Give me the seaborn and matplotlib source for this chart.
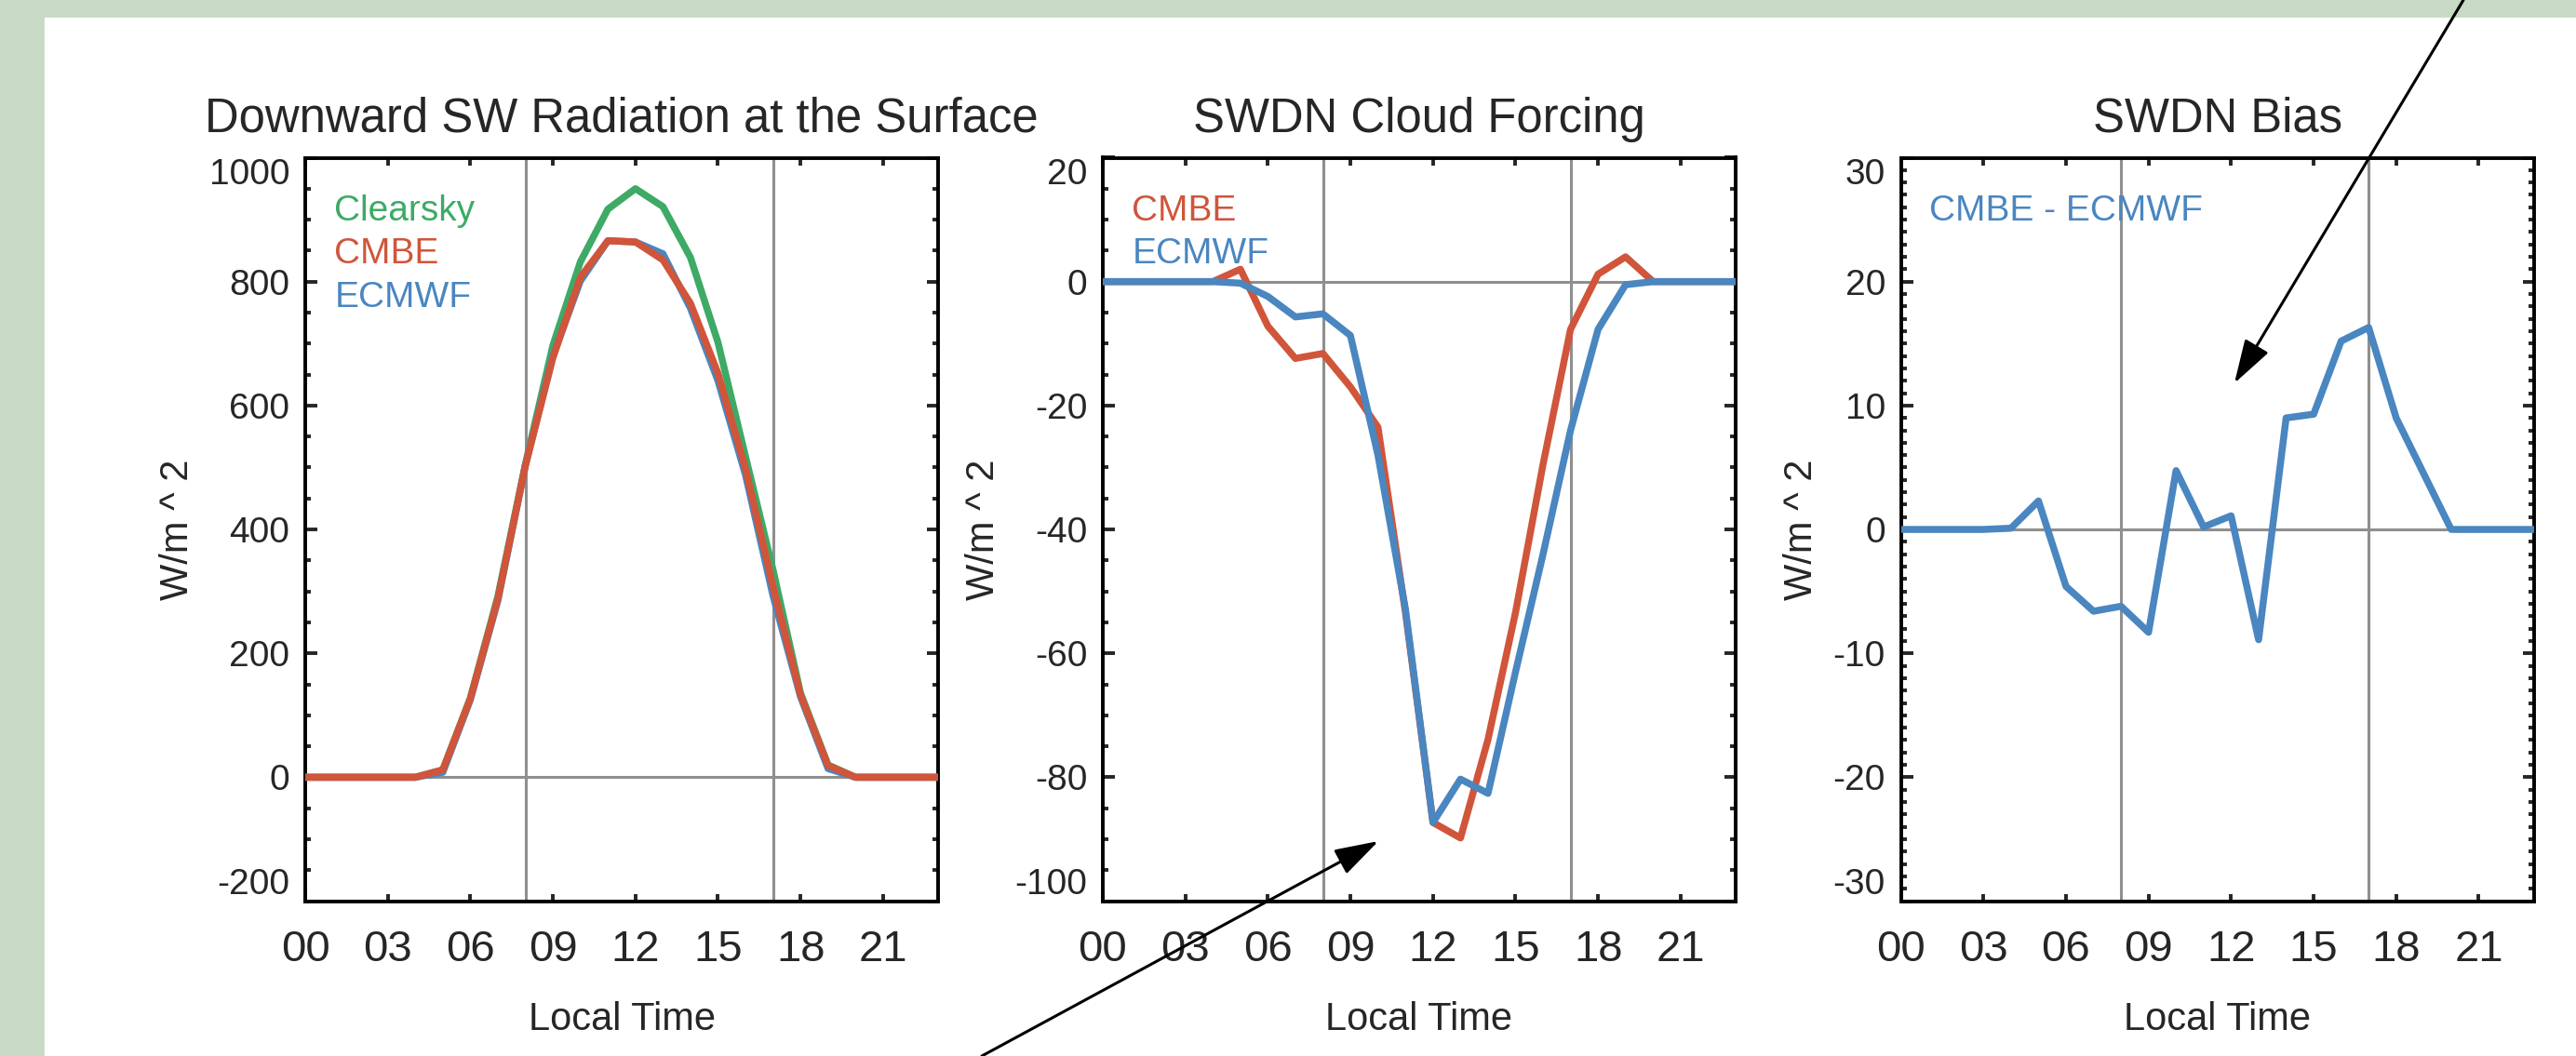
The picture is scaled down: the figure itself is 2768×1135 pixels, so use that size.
import numpy as np
import pandas as pd
import matplotlib
matplotlib.use("Agg")
import matplotlib.pyplot as plt
from matplotlib.patches import Rectangle
from matplotlib.ticker import MultipleLocator, NullLocator
import seaborn as sns

# hourly values, local time 00..23
hours = list(range(24))
hour_ticks = [0, 3, 6, 9, 12, 15, 18, 21]
hour_labels = ["00", "03", "06", "09", "12", "15", "18", "21"]

sw_clearsky = [0, 0, 0, 0, 0, 12, 128, 292, 505, 697, 832, 917,
               950, 921, 839, 702, 518, 335, 136, 20, 0, 0, 0, 0]
sw_cmbe = [0, 0, 0, 0, 0, 12, 127, 288, 503, 677, 807, 866,
           864, 835, 765, 652, 498, 308, 133, 19, 0, 0, 0, 0]
sw_ecmwf = [0, 0, 0, 0, 0, 8, 125, 285, 503, 680, 801, 866,
            864, 845, 757, 640, 488, 293, 130, 14, 0, 0, 0, 0]

cf_cmbe = [0, 0, 0, 0, 0, 2.0, -7.2, -12.4, -11.6, -17.0, -23.5, -53.4,
           -87.3, -89.8, -73.9, -53.4, -29.5, -7.7, 1.2, 4.0, 0, 0, 0, 0]
cf_ecmwf = [0, 0, 0, 0, 0, -0.25, -2.4, -5.7, -5.2, -8.7, -28.0, -52.9,
            -87.3, -80.3, -82.6, -63.0, -44.0, -24.0, -7.7, -0.5, 0, 0, 0, 0]

bias = [0, 0, 0, 0, 0.1, 2.3, -4.6, -6.6, -6.2, -8.3, 4.75, 0.2,
        1.1, -8.9, 9.0, 9.3, 15.2, 16.3, 9.0, 4.5, 0, 0, 0, 0]

GREEN = "#3daa66"
RED = "#d0553a"
BLUE = "#4a86c0"
GREY = "#8f8f8f"
FRAME = "#c8dac4"

sns.set_style("ticks")
plt.rcParams["font.family"] = ["Liberation Sans", "DejaVu Sans"]
plt.rcParams["axes.unicode_minus"] = False

W, H = 2768, 1135
fig = plt.figure(figsize=(W / 200, H / 200), dpi=200)
fig.patch.set_facecolor("white")
# light green slide frame on left and top
fig.add_artist(Rectangle((0, 0), 46 / W, 1, transform=fig.transFigure,
                         color=FRAME, zorder=0))
fig.add_artist(Rectangle((0, 1 - 16.5 / H), 1, 16.5 / H, transform=fig.transFigure,
                         color=FRAME, zorder=0))

bottom = 1 - 968.6 / H
height = (968.6 - 169.5) / H
width = 680 / W
ax1 = fig.add_axes([328 / W, bottom, width, height])
ax2 = fig.add_axes([1185 / W, bottom, width, height])
ax3 = fig.add_axes([2042.6 / W, bottom, width, height])


def style_axis(ax, lo, hi, major, minor, title):
    ax.set_xlim(0, 23)
    ax.set_ylim(lo, hi)
    ax.axvline(8, color=GREY, lw=1.1, zorder=1)
    ax.axvline(17, color=GREY, lw=1.1, zorder=1)
    ax.axhline(0, color=GREY, lw=1.1, zorder=1)
    ax.set_xticks(hour_ticks)
    ax.set_xticklabels(hour_labels)
    ax.xaxis.set_minor_locator(NullLocator())
    ax.set_yticks(np.arange(lo, hi + major / 2, major))
    ax.yaxis.set_minor_locator(MultipleLocator(minor))
    ax.tick_params(axis="x", which="major", direction="in", top=True, bottom=True,
                   length=3, width=1.4, labelsize=17, pad=11)
    ax.tick_params(axis="y", which="major", direction="in", left=True, right=True,
                   length=4.5, width=1.4, labelsize=14, pad=6)
    ax.tick_params(axis="y", which="minor", direction="in", left=True, right=True,
                   length=2, width=1.4)
    for s in ax.spines.values():
        s.set_visible(True)
        s.set_linewidth(1.4)
        s.set_color("black")
    yt = ax.yaxis.get_major_ticks()
    yt[0].label1.set_verticalalignment("bottom")
    yt[-1].label1.set_verticalalignment("top")
    ax.set_title(title, fontsize=18.3, pad=10)
    ax.set_xlabel("Local Time", fontsize=15, labelpad=12)
    ax.set_ylabel("W/m ^ 2", fontsize=15, labelpad=5)


lw = 2.7

# Panel 1
sns.lineplot(x=hours, y=sw_clearsky, color=GREEN, lw=lw, ax=ax1, zorder=3)
sns.lineplot(x=hours, y=sw_ecmwf, color=BLUE, lw=lw, ax=ax1, zorder=4)
sns.lineplot(x=hours, y=sw_cmbe, color=RED, lw=lw, ax=ax1, zorder=5)
style_axis(ax1, -200, 1000, 200, 50, "Downward SW Radiation at the Surface")
ax1.text(0.046, 0.9155, "Clearsky", color=GREEN, fontsize=14, transform=ax1.transAxes)
ax1.text(0.046, 0.8577, "CMBE", color=RED, fontsize=14, transform=ax1.transAxes)
ax1.text(0.046, 0.7993, "ECMWF", color=BLUE, fontsize=14, transform=ax1.transAxes)

# Panel 2
sns.lineplot(x=hours, y=cf_cmbe, color=RED, lw=lw, ax=ax2, zorder=4)
sns.lineplot(x=hours, y=cf_ecmwf, color=BLUE, lw=lw, ax=ax2, zorder=5)
style_axis(ax2, -100, 20, 20, 5, "SWDN Cloud Forcing")
ax2.text(0.046, 0.9155, "CMBE", color=RED, fontsize=14, transform=ax2.transAxes)
ax2.text(0.046, 0.8577, "ECMWF", color=BLUE, fontsize=14, transform=ax2.transAxes)

# Panel 3
sns.lineplot(x=hours, y=bias, color=BLUE, lw=lw, ax=ax3, zorder=5)
style_axis(ax3, -30, 30, 10, 1, "SWDN Bias")
ax3.text(0.044, 0.9155, "CMBE - ECMWF", color=BLUE, fontsize=14, transform=ax3.transAxes)

# pointer arrows
arrow = dict(arrowstyle="-|>,head_length=1.45,head_width=0.45", color="black",
             lw=1.1, shrinkA=0, shrinkB=0, mutation_scale=10)
ax2.annotate("", xy=(10.02, -90.3), xycoords="data",
             xytext=(1055 / W, 0.0), textcoords="figure fraction",
             arrowprops=arrow, annotation_clip=False, zorder=10)
ax3.annotate("", xy=(12.12, 11.8), xycoords="data",
             xytext=(2647 / W, 1.0), textcoords="figure fraction",
             arrowprops=arrow, annotation_clip=False, zorder=10)

fig.savefig("out.png", dpi=200)
